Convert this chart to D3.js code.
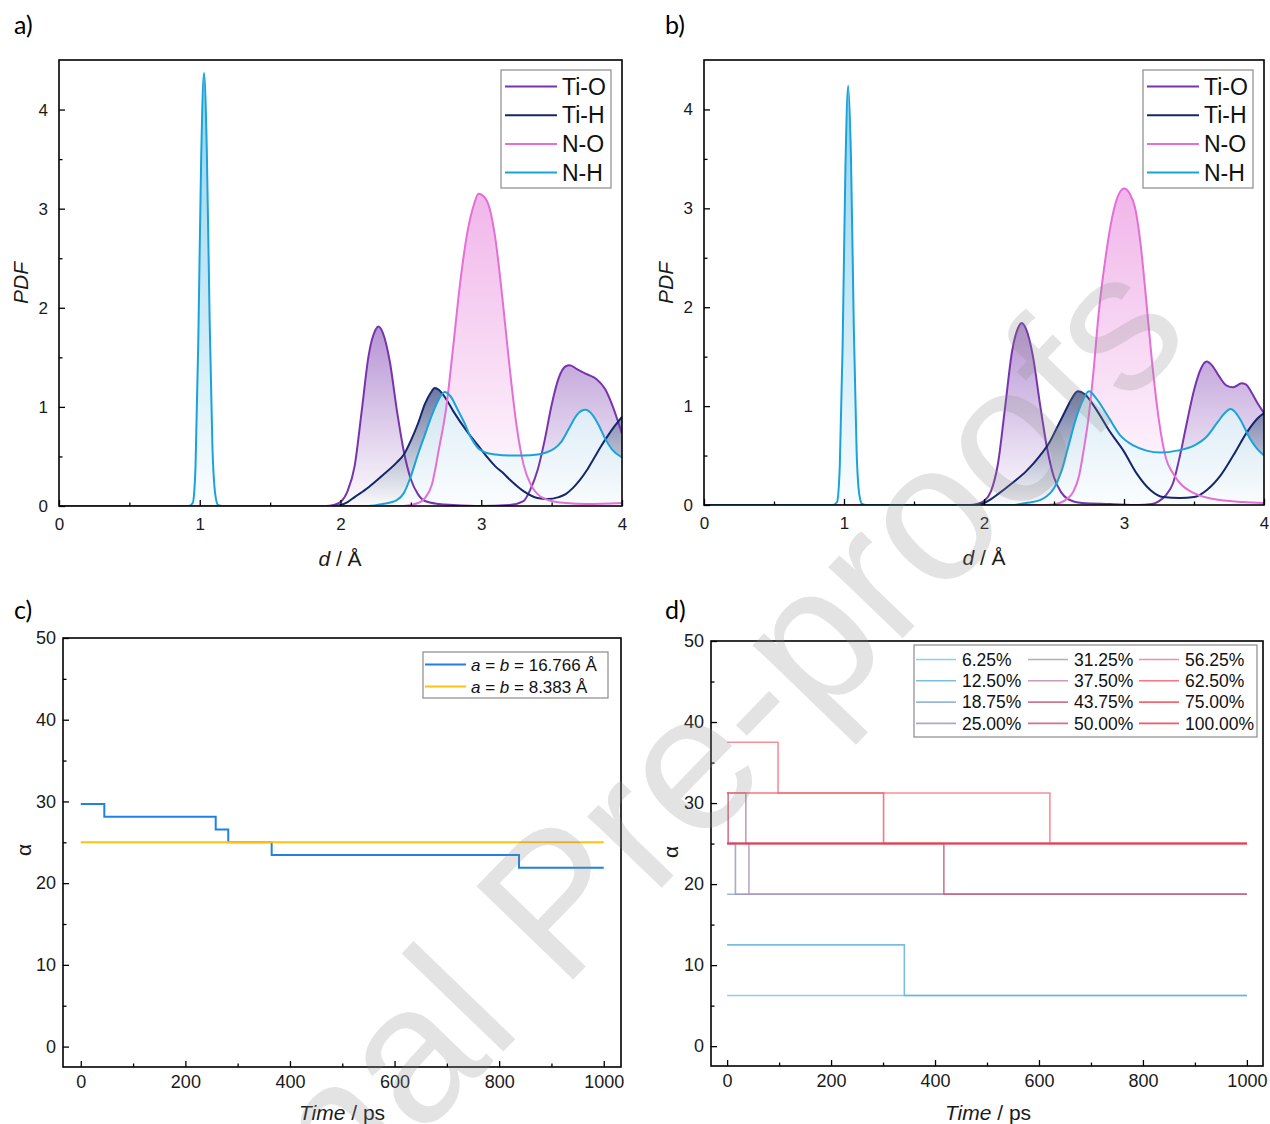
<!DOCTYPE html>
<html>
<head>
<meta charset="utf-8">
<script src="https://cdn.jsdelivr.net/npm/d3@7"></script>
<style>
  body { margin: 0; background: #fff; }
  svg { display: block; }
</style>
</head>
<body>
<div id="paper"></div>
<script>
// four-panel figure: PDFs of pair distances (a, b) and alpha vs time (c, d)

// ---- data ----
const pairNames = ["Ti-O", "Ti-H", "N-O", "N-H"];
const pairColours = ["#7634ad", "#15276a", "#e46fd6", "#1aa3da"];
const fillTop = [0.6, 0.72, 0.58, 0.55]; // strength of the fill colour at the top of each area

// panel a, [d, PDF]
const tiO_a = [[0,0],[1.9,0],[1.95,0.01],[2.0,0.04],[2.05,0.15],[2.1,0.4],[2.15,0.95],[2.2,1.52],[2.25,1.78],[2.27,1.81],[2.3,1.75],[2.35,1.46],[2.4,0.97],[2.45,0.55],[2.5,0.27],[2.55,0.12],[2.6,0.05],[2.7,0.02],[2.8,0.01],[3.0,0],[3.2,0.01],[3.3,0.05],[3.35,0.17],[3.4,0.36],[3.45,0.66],[3.5,1.02],[3.55,1.29],[3.6,1.41],[3.63,1.42],[3.68,1.38],[3.75,1.33],[3.82,1.28],[3.88,1.18],[3.93,1.02],[3.97,0.86],[4.0,0.73]];
const tiH_a = [[0,0],[1.95,0],[2.0,0.01],[2.05,0.04],[2.1,0.09],[2.2,0.19],[2.3,0.31],[2.4,0.44],[2.45,0.52],[2.5,0.66],[2.55,0.83],[2.6,1.03],[2.64,1.14],[2.67,1.19],[2.7,1.17],[2.75,1.08],[2.8,0.96],[2.9,0.75],[3.0,0.57],[3.05,0.48],[3.1,0.4],[3.15,0.34],[3.2,0.27],[3.3,0.15],[3.4,0.08],[3.47,0.07],[3.55,0.09],[3.6,0.12],[3.65,0.18],[3.7,0.26],[3.75,0.36],[3.8,0.48],[3.85,0.6],[3.9,0.71],[3.95,0.81],[4.0,0.9]];
const nO_a = [[0,0],[2.45,0],[2.55,0.03],[2.6,0.08],[2.65,0.22],[2.7,0.58],[2.75,0.98],[2.8,1.6],[2.85,2.25],[2.9,2.75],[2.95,3.05],[2.98,3.15],[3.02,3.12],[3.06,3.0],[3.1,2.7],[3.15,2.1],[3.2,1.42],[3.25,0.82],[3.3,0.42],[3.35,0.22],[3.4,0.12],[3.5,0.05],[3.6,0.03],[3.75,0.02],[4.0,0.03]];
const nH_a = [[0,0],[0.92,0],[0.95,0.03],[0.97,0.4],[0.99,1.7],[1.01,3.5],[1.03,4.37],[1.05,3.6],[1.07,1.9],[1.09,0.6],[1.11,0.12],[1.13,0.01],[1.16,0],[2.2,0],[2.3,0.02],[2.4,0.06],[2.45,0.13],[2.5,0.3],[2.55,0.52],[2.6,0.72],[2.65,0.92],[2.7,1.08],[2.74,1.15],[2.78,1.11],[2.83,0.98],[2.88,0.84],[2.93,0.68],[2.98,0.58],[3.03,0.54],[3.1,0.52],[3.2,0.51],[3.3,0.51],[3.4,0.52],[3.46,0.54],[3.52,0.58],[3.57,0.65],[3.63,0.8],[3.68,0.92],[3.74,0.97],[3.79,0.92],[3.84,0.8],[3.88,0.68],[3.93,0.57],[4.0,0.49]];

// panel b, [d, PDF]
const tiO_b = [[0,0],[1.9,0],[1.95,0.01],[2.0,0.04],[2.05,0.14],[2.1,0.42],[2.15,0.98],[2.2,1.55],[2.25,1.81],[2.27,1.84],[2.3,1.78],[2.35,1.5],[2.4,1.02],[2.45,0.58],[2.5,0.28],[2.55,0.13],[2.6,0.06],[2.7,0.02],[2.9,0.01],[3.1,0],[3.2,0.01],[3.25,0.04],[3.3,0.1],[3.35,0.22],[3.4,0.5],[3.45,0.84],[3.5,1.16],[3.55,1.38],[3.59,1.45],[3.63,1.41],[3.68,1.3],[3.73,1.21],[3.78,1.19],[3.84,1.23],[3.87,1.22],[3.91,1.14],[3.95,1.04],[4.0,0.93]];
const tiH_b = [[0,0],[1.95,0],[2.0,0.02],[2.05,0.06],[2.1,0.11],[2.2,0.22],[2.3,0.34],[2.4,0.5],[2.47,0.64],[2.52,0.78],[2.57,0.92],[2.62,1.06],[2.67,1.15],[2.72,1.12],[2.8,0.97],[2.9,0.74],[3.0,0.54],[3.09,0.32],[3.19,0.15],[3.28,0.08],[3.4,0.07],[3.5,0.08],[3.59,0.15],[3.69,0.3],[3.78,0.5],[3.88,0.74],[3.95,0.87],[4.0,0.93]];
const nO_b = [[0,0],[2.45,0],[2.54,0.02],[2.6,0.07],[2.64,0.14],[2.68,0.3],[2.71,0.54],[2.75,0.92],[2.78,1.32],[2.82,1.95],[2.87,2.52],[2.93,3.0],[3.0,3.2],[3.04,3.15],[3.08,3.0],[3.12,2.62],[3.15,2.2],[3.2,1.45],[3.25,0.85],[3.3,0.47],[3.35,0.32],[3.4,0.22],[3.5,0.12],[3.64,0.06],[3.85,0.03],[4.0,0.02]];
const nH_b = [[0,0],[0.92,0],[0.95,0.03],[0.97,0.4],[0.99,1.6],[1.01,3.4],[1.03,4.24],[1.05,3.5],[1.07,1.8],[1.09,0.55],[1.11,0.1],[1.13,0.01],[1.16,0],[2.2,0],[2.3,0.02],[2.4,0.05],[2.45,0.09],[2.5,0.17],[2.55,0.33],[2.6,0.58],[2.65,0.84],[2.7,1.04],[2.75,1.15],[2.8,1.08],[2.88,0.91],[2.97,0.71],[3.07,0.6],[3.16,0.55],[3.26,0.53],[3.38,0.55],[3.5,0.6],[3.59,0.69],[3.67,0.84],[3.72,0.93],[3.76,0.97],[3.8,0.93],[3.84,0.84],[3.9,0.67],[3.95,0.57],[4.0,0.5]];

// panel c, step series: time / ps and alpha
const cellLengths = ["16.766", "8.383"];
const cellColours = ["#1f80e6", "#ffc20e"];
const timeBig = [0, 45, 258, 282, 365, 838, 1000];
const alphaBig = [29.6875, 28.125, 26.5625, 25, 23.4375, 21.875, 21.875];
const timeSmall = [0, 1000];
const alphaSmall = [25, 25];

// panel d, one step series per loading
const coverNames = ["6.25%","12.50%","18.75%","25.00%","31.25%","37.50%","43.75%","50.00%","56.25%","62.50%","75.00%","100.00%"];
const coverColours = ["#7cc6ea","#62b2dc","#8aaad0","#9a9ac4","#b098c0","#c08aa8","#c4607e","#d05a72","#f47c86","#f2606c","#f24a58","#f23a4a"];
const coverTimes = [
  [0, 1000],
  [0, 341, 1000],
  [0, 1000],
  [0, 16, 1000],
  [0, 42, 1000],
  [0, 36, 1000],
  [0, 417, 1000],
  [0, 2, 1000],
  [0, 98, 621, 1000],
  [0, 301, 1000],
  [0, 1000],
  [0, 1000]
];
const coverAlphas = [
  [6.25, 6.25],
  [12.5, 6.25, 6.25],
  [18.75, 18.75],
  [25, 18.75, 18.75],
  [25, 18.75, 18.75],
  [31.25, 25, 25],
  [25, 18.75, 18.75],
  [31.25, 25, 25],
  [37.5, 31.25, 25, 25],
  [31.25, 25, 25],
  [25, 25],
  [25, 25]
];

// ---- drawing ----
const font = "'Liberation Sans', Arial, sans-serif";
const intFmt = d3.format("d");

const svg = d3
  .select("#paper")
  .append("svg")
  .attr("width", 1270)
  .attr("height", 1124)
  .style("background-color", "#fff");
const defs = svg.append("defs");

function frame(g, x, y, box, o) {
  const bottom = g.append("g").attr("transform", `translate(0,${box.bottom})`);
  bottom.append("g").call(d3.axisBottom(x).tickValues(o.xMajor).tickSize(-6).tickPadding(o.xPad).tickFormat(intFmt));
  bottom.append("g").call(d3.axisBottom(x).tickValues(o.xMinor).tickSize(-3.5).tickFormat(""));
  const left = g.append("g").attr("transform", `translate(${box.left},0)`);
  left.append("g").call(d3.axisLeft(y).tickValues(o.yMajor).tickSize(-6).tickPadding(o.yPad).tickFormat(intFmt));
  left.append("g").call(d3.axisLeft(y).tickValues(o.yMinor).tickSize(-3.5).tickFormat(""));
  g.selectAll(".domain").remove();
  g.selectAll(".tick line").attr("stroke", "#000").attr("stroke-width", 1.3);
  g.selectAll(".tick text")
    .attr("font-family", font)
    .attr("font-size", o.fs)
    .attr("fill", "#1a1a1a");
  g.append("rect")
    .attr("x", box.left).attr("y", box.top)
    .attr("width", box.right - box.left).attr("height", box.bottom - box.top)
    .attr("fill", "none").attr("stroke", "#000").attr("stroke-width", 1.6);
}

function clip(id, box) {
  defs.append("clipPath").attr("id", id).append("rect")
    .attr("x", box.left).attr("y", box.top)
    .attr("width", box.right - box.left).attr("height", box.bottom - box.top);
  return `url(#${id})`;
}

function panelLetter(txt, x, y) {
  svg.append("text").attr("x", x).attr("y", y)
    .attr("font-family", "Lato, 'Open Sans', sans-serif").attr("font-size", 25)
    .attr("fill", "#000").text(txt);
}

function xTitle(cx, by, italicPart, rest) {
  const t = svg.append("text").attr("x", cx).attr("y", by)
    .attr("text-anchor", "middle").attr("font-family", font).attr("font-size", 21).attr("fill", "#1a1a1a");
  t.append("tspan").attr("font-style", "italic").text(italicPart);
  t.append("tspan").text(rest);
}

function yTitle(x, cy, txt, italic) {
  svg.append("text").attr("transform", `translate(${x},${cy}) rotate(-90)`)
    .attr("text-anchor", "middle").attr("font-family", font).attr("font-size", 21)
    .attr("font-style", italic ? "italic" : "normal").attr("fill", "#1a1a1a").text(txt);
}

function pdfPanel(id, box, series) {
  const x = d3.scaleLinear([0, 4], [box.left, box.right]);
  const y = d3.scaleLinear([0, 4.5], [box.bottom, box.top]);
  const g = svg.append("g");
  const plot = g.append("g").attr("clip-path", clip("clip" + id, box));

  const area = d3.area()
    .x((d) => x(d[0])).y0(y(0)).y1((d) => y(d[1]))
    .curve(d3.curveMonotoneX);
  const line = area.lineY1();

  // fills stack in order, the later ones covering the earlier ones
  series.forEach((s, i) => {
    const mix = d3.interpolateRgb("#ffffff", pairColours[i]);
    const grad = defs.append("linearGradient").attr("id", `grad${id}${i}`)
      .attr("x1", 0).attr("y1", 0).attr("x2", 0).attr("y2", 1);
    grad.append("stop").attr("offset", 0).attr("stop-color", mix(fillTop[i]));
    grad.append("stop").attr("offset", 1).attr("stop-color", mix(0.02));
    plot.append("path").datum(s).attr("d", area)
      .attr("fill", `url(#grad${id}${i})`).attr("fill-opacity", 0.88);
  });
  series.forEach((s, i) => {
    plot.append("path").datum(s).attr("d", line)
      .attr("fill", "none").attr("stroke", pairColours[i]).attr("stroke-width", 2);
  });

  frame(g, x, y, box, {
    xMajor: [0, 1, 2, 3, 4], xMinor: [0.5, 1.5, 2.5, 3.5], xPad: 12,
    yMajor: [0, 1, 2, 3, 4], yMinor: [0.5, 1.5, 2.5, 3.5], yPad: 11, fs: 17
  });

  // legend
  const lx = box.right - 121, ly = box.top + 10;
  const leg = g.append("g").attr("transform", `translate(${lx},${ly})`);
  leg.append("rect").attr("width", 110).attr("height", 118)
    .attr("fill", "#fff").attr("stroke", "#8a8a8a").attr("stroke-width", 1.2);
  pairNames.forEach((n, i) => {
    const ry = 16.5 + i * 28.7;
    leg.append("line").attr("x1", 4).attr("x2", 56).attr("y1", ry).attr("y2", ry)
      .attr("stroke", pairColours[i]).attr("stroke-width", 2);
    leg.append("text").attr("x", 61).attr("y", ry).attr("dy", "0.36em")
      .attr("font-family", font).attr("font-size", 23).attr("fill", "#111").text(n);
  });
}

function timePanel(id, box, xDom, yDom, times, alphas, colours, width, opacity) {
  const x = d3.scaleLinear(xDom, [box.left, box.right]);
  const y = d3.scaleLinear(yDom, [box.bottom, box.top]);
  const g = svg.append("g");
  const plot = g.append("g").attr("clip-path", clip("clip" + id, box));
  const line = d3.line().x((d) => x(d[0])).y((d) => y(d[1])).curve(d3.curveStepAfter);
  times.forEach((t, i) => {
    const pts = t.map((v, j) => [v, alphas[i][j]]);
    plot.append("path").datum(pts).attr("d", line)
      .attr("fill", "none").attr("stroke", colours[i])
      .attr("stroke-width", width).attr("stroke-opacity", opacity);
  });
  frame(g, x, y, box, {
    xMajor: [0, 200, 400, 600, 800, 1000], xMinor: [100, 300, 500, 700, 900], xPad: 8,
    yMajor: [0, 10, 20, 30, 40, 50], yMinor: [5, 15, 25, 35, 45], yPad: 7, fs: 18
  });
  return g;
}

// panel a
const boxA = { left: 59, right: 622, top: 60, bottom: 506 };
pdfPanel("a", boxA, [tiO_a, tiH_a, nO_a, nH_a]);
panelLetter("a)", 14, 34);
xTitle(340, 566, "d", " / Å");
yTitle(28, 283, "PDF", true);

// panel b
const boxB = { left: 704, right: 1264, top: 60, bottom: 505 };
pdfPanel("b", boxB, [tiO_b, tiH_b, nO_b, nH_b]);
panelLetter("b)", 665, 34);
xTitle(984, 565, "d", " / Å");
yTitle(673, 283, "PDF", true);

// panel c
const boxC = { left: 63, right: 621, top: 638, bottom: 1067 };
const gC = timePanel("c", boxC, [-34, 1033], [-2.5, 50],
  [timeBig, timeSmall], [alphaBig, alphaSmall], cellColours, 2, 1);
panelLetter("c)", 14, 619);
xTitle(342, 1120, "Time", " / ps");
yTitle(31, 850, "α", false);
{
  const leg = gC.append("g").attr("transform", "translate(423,652)");
  leg.append("rect").attr("width", 185).attr("height", 46)
    .attr("fill", "#fff").attr("stroke", "#8a8a8a").attr("stroke-width", 1.2);
  cellLengths.forEach((v, i) => {
    const ry = 12.5 + i * 22;
    leg.append("line").attr("x1", 2).attr("x2", 43).attr("y1", ry).attr("y2", ry)
      .attr("stroke", cellColours[i]).attr("stroke-width", 2);
    const t = leg.append("text").attr("x", 48).attr("y", ry).attr("dy", "0.36em")
      .attr("font-family", font).attr("font-size", 17).attr("fill", "#111");
    t.append("tspan").attr("font-style", "italic").text("a");
    t.append("tspan").text(" = ");
    t.append("tspan").attr("font-style", "italic").text("b");
    t.append("tspan").text(` = ${v} Å`);
  });
}

// panel d
const boxD = { left: 711, right: 1263, top: 641, bottom: 1066 };
const gD = timePanel("d", boxD, [-31, 1031], [-2.45, 50],
  coverTimes, coverAlphas, coverColours, 1.6, 0.85);
panelLetter("d)", 665, 619);
xTitle(988, 1120, "Time", " / ps");
yTitle(678, 852, "α", false);
{
  const leg = gD.append("g").attr("transform", "translate(914,645)");
  leg.append("rect").attr("width", 343).attr("height", 92)
    .attr("fill", "#fff").attr("stroke", "#8a8a8a").attr("stroke-width", 1.2);
  const colX = [2, 114, 225];
  coverNames.forEach((n, i) => {
    const c = Math.floor(i / 4), r = i % 4;
    const ry = 14.5 + r * 21.3;
    leg.append("line").attr("x1", colX[c]).attr("x2", colX[c] + 40).attr("y1", ry).attr("y2", ry)
      .attr("stroke", coverColours[i]).attr("stroke-width", 1.6).attr("stroke-opacity", 0.85);
    leg.append("text").attr("x", colX[c] + 46).attr("y", ry).attr("dy", "0.36em")
      .attr("font-family", font).attr("font-size", 17.5).attr("fill", "#111").text(n);
  });
}

// watermark across the whole figure
svg.append("text")
  .attr("transform", "translate(80,1490) rotate(-46)")
  .attr("font-family", font).attr("font-size", 195)
  .attr("fill", "#888").attr("fill-opacity", 0.24)
  .text("Journal Pre-proofs");
</script>
</body>
</html>
